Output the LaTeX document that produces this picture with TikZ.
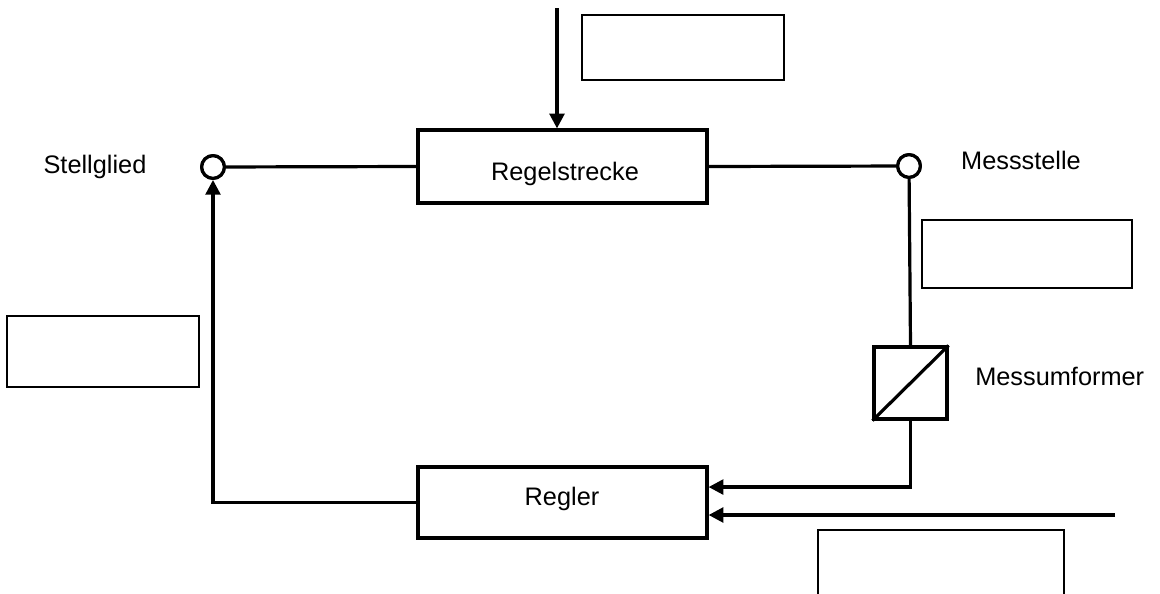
\documentclass[tikz,border=0pt]{standalone}
\usepackage{fontspec}
\setmainfont{Liberation Sans}
\usetikzlibrary{arrows.meta,calc}
\begin{document}
\begin{tikzpicture}[x=0.75pt,y=-0.75pt,
  thickln/.style={line width=2.4pt},
  thinln/.style={line width=1.1pt},
  blockbox/.style={draw,thickln,inner sep=0pt,rectangle},
  emptybox/.style={draw,thinln,inner sep=0pt,rectangle},
  junction/.style={draw,thickln,circle,inner sep=0pt,minimum size=17pt,fill=white},
  lbl/.style={font=\fontsize{19}{23}\selectfont,inner sep=0pt},
  arr/.style={thickln,-{Triangle[length=11pt,width=11pt]}},
  conn/.style={thickln}
]
\clip (0,0) rectangle (1160,593);
\fill[white] (0,0) rectangle (1160,593);

% blocks
\node[blockbox,minimum width=289*0.75pt,minimum height=73*0.75pt] (rs) at (562.5,166.5) {};
\node[blockbox,minimum width=289*0.75pt,minimum height=71*0.75pt] (rg) at (562.5,502.5) {};
\node[blockbox,minimum width=73*0.75pt,minimum height=72*0.75pt] (mu) at (910.5,383) {};
\draw[thickln] (mu.south west) -- (mu.north east);

% junctions
\node[junction] (c1) at (213,167) {};
\node[junction] (c2) at (909,166) {};

% empty boxes
\node[emptybox,minimum width=202*0.75pt,minimum height=65*0.75pt] (e1) at (683,47.5) {};
\node[emptybox,minimum width=210*0.75pt,minimum height=68*0.75pt] (e2) at (1027,254) {};
\node[emptybox,minimum width=192*0.75pt,minimum height=71*0.75pt] (e3) at (103,351.5) {};
\draw[thinln] (818,600) -- (818,530) -- (1064,530) -- (1064,600);

% labels
\node[lbl,anchor=base] (t1) at (95,173) {Stellglied};
\node[lbl,anchor=base] (t2) at (565,180) {Regelstrecke};
\node[lbl,anchor=base] (t3) at (1021,169) {Messstelle};
\node[lbl,anchor=base] (t4) at (562,505) {Regler};
\node[lbl,anchor=base west] (t5) at (975,385) {Messumformer};

% connectors
\coordinate (top) at (557,8);
\coordinate (in2) at (1115,515);
\draw[arr] (top) -- (top |- rs.north);
\draw[conn] (c1) -- (rs.west);
\draw[conn] (rs.east) -- (c2);
\draw[conn] (c2) -- (mu.north);
\draw[arr] (mu.south) |- ([yshift=11.6pt]rg.east);
\draw[arr] (in2) -- (rg.east |- in2);
\draw[arr] (rg.west) -| (c1.south);
\node[junction] at (c1) {};
\node[junction] at (c2) {};
\end{tikzpicture}
\end{document}
